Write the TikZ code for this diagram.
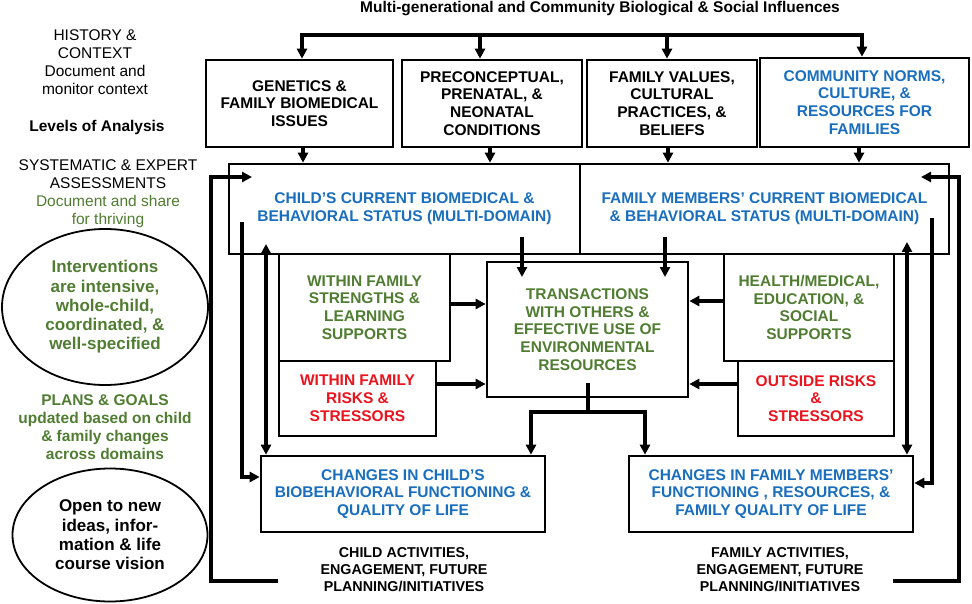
\documentclass[tikz,border=0pt]{standalone}
\usepackage{fontspec}
\setmainfont{Liberation Sans}
\usetikzlibrary{arrows.meta,shapes.geometric}
\definecolor{tblue}{RGB}{25,110,190}
\definecolor{tgreen}{RGB}{80,125,50}
\definecolor{tred}{RGB}{235,20,30}
\begin{document}
\begin{tikzpicture}[x=1pt,y=-1pt,
  conn/.style={line width=3.2pt},
  arr/.style={conn,-{Triangle[length=10pt,width=10pt]}},
  dbl/.style={conn,{Triangle[length=10pt,width=10pt]}-{Triangle[length=10pt,width=10pt]}},
  boxnode/.style={draw,line width=2.6pt,inner sep=0pt,align=center,font=\fontsize{15.5}{17.8}\selectfont\bfseries},
  ell/.style={draw=black,ellipse,line width=1.8pt,inner sep=0pt,align=center,font=\fontsize{17}{19.3}\selectfont\bfseries},
  side/.style={align=center,inner sep=0pt,font=\fontsize{15.5}{18}\selectfont},
  sideb/.style={align=center,inner sep=0pt,font=\fontsize{15.5}{18}\selectfont\bfseries},
  foot/.style={align=center,inner sep=0pt,font=\fontsize{14.3}{17}\selectfont\bfseries},
  ]
\useasboundingbox (0,0) rectangle (972,604);
\fill[white] (0,0) rectangle (972,604);

% title
\node[sideb,anchor=base] (title) at (600,12.5) {Multi-generational and Community Biological \& Social Influences};

% top boxes
\node[boxnode,minimum width=187pt,minimum height=87pt] (gen) at (299.5,103.5) {GENETICS \&\\FAMILY BIOMEDICAL\\ISSUES};
\node[boxnode,minimum width=180pt,minimum height=87pt] (pre) at (492,103.5) {PRECONCEPTUAL,\\PRENATAL, \&\\NEONATAL\\CONDITIONS};
\node[boxnode,minimum width=170pt,minimum height=87pt] (fam) at (672,103.5) {FAMILY VALUES,\\CULTURAL\\PRACTICES, \&\\BELIEFS};
\node[boxnode,text=tblue,minimum width=209pt,minimum height=89pt] (com) at (864.5,102.5) {COMMUNITY NORMS,\\CULTURE, \&\\RESOURCES FOR\\FAMILIES};

% current status boxes
\node[boxnode,text=tblue,minimum width=351pt,minimum height=90pt] (child) at (404.5,209) {CHILD’S CURRENT BIOMEDICAL \&\\BEHAVIORAL STATUS (MULTI-DOMAIN)};
\node[boxnode,text=tblue,minimum width=369pt,minimum height=90pt] (fmem) at (764.5,209) {FAMILY MEMBERS’ CURRENT BIOMEDICAL\\\& BEHAVIORAL STATUS (MULTI-DOMAIN)};

% middle boxes
\node[boxnode,text=tgreen,minimum width=201pt,minimum height=135pt] (trans) at (587.5,329.5) {TRANSACTIONS\\WITH OTHERS \&\\EFFECTIVE USE OF\\ENVIRONMENTAL\\RESOURCES};
\node[boxnode,text=tgreen,minimum width=171pt,minimum height=107pt] (str) at (364.5,307.5) {WITHIN FAMILY\\STRENGTHS \&\\LEARNING\\SUPPORTS};
\node[boxnode,text=tred,minimum width=157pt,minimum height=75pt] (risk) at (357.5,398.5) {WITHIN FAMILY\\RISKS \&\\STRESSORS};
\node[boxnode,text=tgreen,minimum width=170pt,minimum height=107pt] (hlth) at (809,307.5) {HEALTH/MEDICAL,\\EDUCATION, \&\\SOCIAL\\SUPPORTS};
\node[boxnode,text=tred,minimum width=156pt,minimum height=75pt] (out) at (816,398.5) {OUTSIDE RISKS\\\&\\STRESSORS};

% change boxes
\node[boxnode,text=tblue,minimum width=284pt,minimum height=76pt] (chch) at (403,494) {CHANGES IN CHILD’S\\BIOBEHAVIORAL FUNCTIONING \&\\QUALITY OF LIFE};
\node[boxnode,text=tblue,minimum width=284pt,minimum height=76pt] (cfam) at (771,494) {CHANGES IN FAMILY MEMBERS’\\FUNCTIONING , RESOURCES, \&\\FAMILY QUALITY OF LIFE};

% footers
\node[foot] (cact) at (404,570) {CHILD ACTIVITIES,\\ENGAGEMENT, FUTURE\\PLANNING/INITIATIVES};
\node[foot] (fact) at (780,570) {FAMILY ACTIVITIES,\\ENGAGEMENT, FUTURE\\PLANNING/INITIATIVES};

% left column
\node[side] (hist) at (95,62) {HISTORY \&\\CONTEXT\\Document and\\monitor context};
\node[sideb] (lev) at (97,127) {Levels of Analysis};
\node[side] (sys) at (108,194) {SYSTEMATIC \& EXPERT\\ASSESSMENTS\\\textcolor{tgreen}{Document and share}\\\textcolor{tgreen}{for thriving}};
\node[ell,text=tgreen,minimum width=206pt,minimum height=156pt] (iv) at (105,307) {Interventions\\are intensive,\\whole-child,\\coordinated, \&\\well-specified};
\node[sideb,text=tgreen] (plan) at (105,427) {PLANS \& GOALS\\updated based on child\\\& family changes\\across domains};
\node[ell,minimum width=195pt,minimum height=133pt] (open) at (110,535) {Open to new\\ideas, infor-\\mation \& life\\course vision};

% bus
\coordinate (busL) at (302,35);
\coordinate (busA) at (480,35);
\coordinate (busB) at (667,35);
\coordinate (busR) at (862,35);
\draw[conn] (busA) -- (busB);
\draw[arr] (busA) -| (busL |- gen.north);
\draw[arr] (busB) -| (busR |- com.north);
\draw[arr] (busA) -- (busA |- pre.north);
\draw[arr] (busB) -- (busB |- fam.north);

% top boxes to status boxes
\coordinate (d1) at (303,0);
\coordinate (d2) at (490,0);
\coordinate (d3) at (668,0);
\coordinate (d4) at (859,0);
\draw[arr] (d1 |- gen.south) -- (d1 |- child.north);
\draw[arr] (d2 |- pre.south) -- (d2 |- child.north);
\draw[arr] (d3 |- fam.south) -- (d3 |- fmem.north);
\draw[arr] (d4 |- com.south) -- (d4 |- fmem.north);

% status to transactions
\coordinate (c1s) at (522,237);
\coordinate (c1e) at (522,277);
\coordinate (c2s) at (665,237);
\coordinate (c2e) at (665,277);
\draw[arr] (c1s) -- (c1e);
\draw[arr] (c2s) -- (c2e);

% supports/risks to transactions
\draw[arr] ([yshift=3.5pt]str.east) -- ([yshift=3.5pt]str.east -| trans.west);
\draw[arr] ([yshift=14.5pt]risk.east) -- ([yshift=14.5pt]risk.east -| trans.west);
\draw[arr] ([yshift=6.5pt]hlth.west) -- ([yshift=6.5pt]hlth.west -| trans.east);
\draw[arr] ([yshift=14.5pt]out.west) -- ([yshift=14.5pt]out.west -| trans.east);

% transactions to changes
\coordinate (ts) at (588,383);
\coordinate (split) at (588,412);
\coordinate (o1) at (531,0);
\coordinate (o2) at (645,0);
\draw[conn] (ts) -- (split);
\draw[arr] (split) -| (o1 |- chch.north);
\draw[arr] (split) -| (o2 |- cfam.north);

% left loops
\coordinate (Lb) at (278,581);
\coordinate (Lx) at (211,177);
\coordinate (Le) at (252,177);
\draw[arr] (Lb) -| (Lx) -- (Le);
\coordinate (L2) at (242,222);
\draw[arr] (L2) |- ([yshift=17pt]chch.west);
\coordinate (L3) at (266,244);
\draw[dbl] (L3) -- (L3 |- chch.north);

% right loops
\coordinate (Rb) at (893,581);
\coordinate (Rx) at (959,177);
\coordinate (Re) at (921,177);
\draw[arr] (Rb) -| (Rx) -- (Re);
\coordinate (R2) at (932,218);
\draw[arr] (R2) |- ([yshift=11pt]cfam.east);
\coordinate (R3) at (907,242);
\draw[dbl] (R3) -- (R3 |- cfam.north);
\end{tikzpicture}
\end{document}
